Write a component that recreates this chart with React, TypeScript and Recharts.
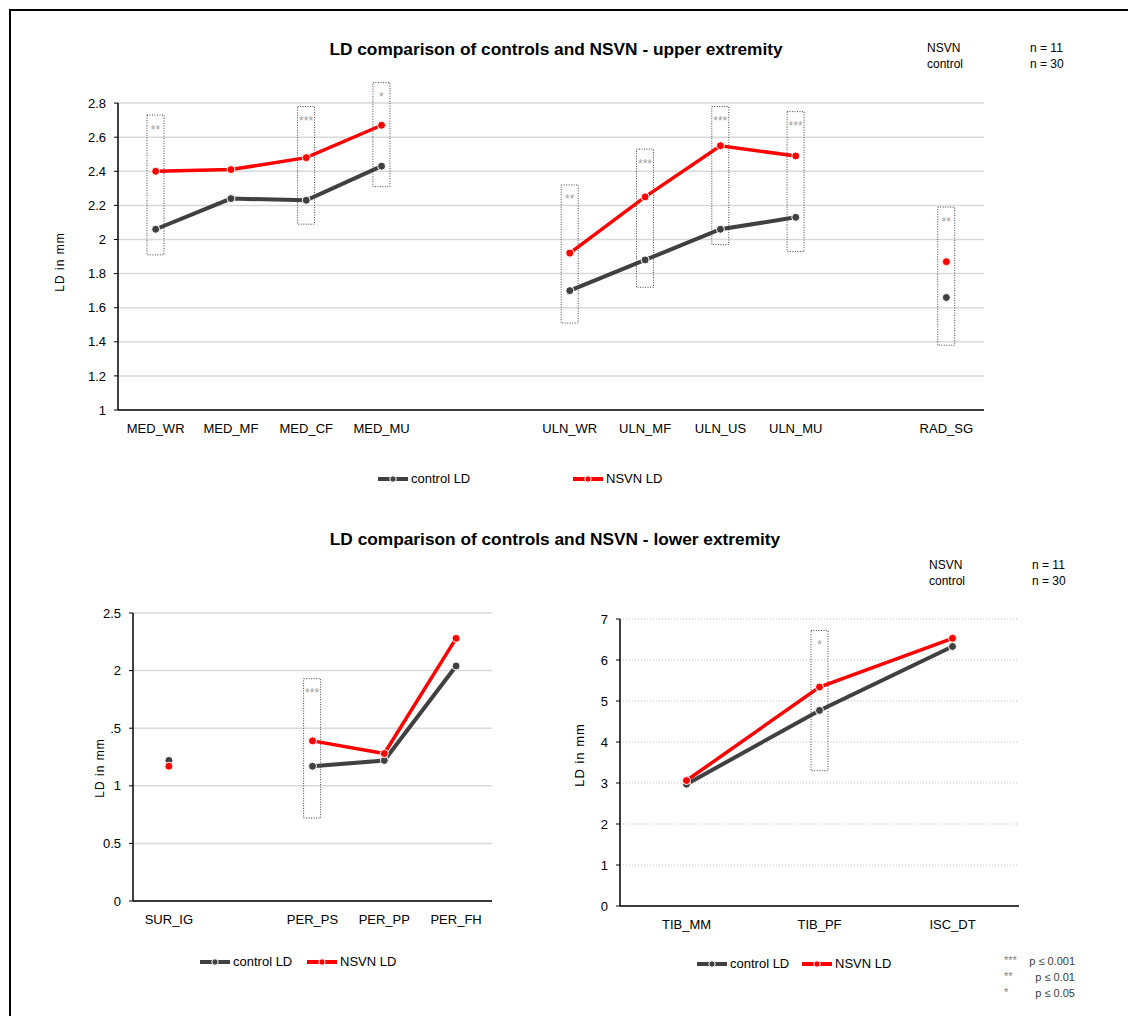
import React from "react";
import {
  ComposedChart, Line, Bar, XAxis, YAxis, CartesianGrid,
  ReferenceLine, LabelList,
} from "recharts";

const FONT = '"Liberation Sans", Arial, sans-serif';
const CONTROL = "#404040";
const NSVN = "#ff0000";
const GRID = "#d9d9d9";

// upper extremity
const upperNerves = ["MED_WR", "MED_MF", "MED_CF", "MED_MU", "ULN_WR", "ULN_MF", "ULN_US", "ULN_MU", "RAD_SG"];
const upperGroup = ["MED", "MED", "MED", "MED", "ULN", "ULN", "ULN", "ULN", "RAD"];
const upperSlot = [0.5, 1.5, 2.5, 3.5, 6, 7, 8, 9, 11];
const upperControl = [2.06, 2.24, 2.23, 2.43, 1.70, 1.88, 2.06, 2.13, 1.66];
const upperNsvn = [2.40, 2.41, 2.48, 2.67, 1.92, 2.25, 2.55, 2.49, 1.87];
const upperBoxLow = [1.91, null, 2.09, 2.31, 1.51, 1.72, 1.97, 1.93, 1.38];
const upperBoxHigh = [2.73, null, 2.78, 2.92, 2.32, 2.53, 2.78, 2.75, 2.19];
const upperSig = ["**", "", "***", "*", "**", "***", "***", "***", "**"];
const upperTicks = [1, 1.2, 1.4, 1.6, 1.8, 2, 2.2, 2.4, 2.6, 2.8];

// lower extremity, left
const leftNerves = ["SUR_IG", "", "PER_PS", "PER_PP", "PER_FH"];
const leftControl = [1.22, null, 1.17, 1.22, 2.04];
const leftNsvn = [1.17, null, 1.39, 1.28, 2.28];
const leftBoxLow = [null, null, 0.72, null, null];
const leftBoxHigh = [null, null, 1.93, null, null];
const leftSig = ["", "", "***", "", ""];
const leftTicks = [0, 0.5, 1, 1.5, 2, 2.5];
const leftTickLabels = ["0", "0.5", "1", ".5", "2", "2.5"];

// lower extremity, right
const rightNerves = ["TIB_MM", "TIB_PF", "ISC_DT"];
const rightControl = [2.97, 4.77, 6.33];
const rightNsvn = [3.06, 5.34, 6.53];
const rightBoxLow = [null, 3.30, null];
const rightBoxHigh = [null, 6.72, null];
const rightSig = ["", "*", ""];
const rightTicks = [0, 1, 2, 3, 4, 5, 6, 7];

const groups = ["MED", "ULN", "RAD"];

const upperData = upperNerves.map((name, i) => ({
  name,
  slot: upperSlot[i],
  [`c_${upperGroup[i]}`]: upperControl[i],
  [`n_${upperGroup[i]}`]: upperNsvn[i],
  box: upperBoxLow[i] != null ? [upperBoxLow[i], upperBoxHigh[i]] : null,
  sig: upperSig[i],
}));

const leftData = leftNerves.map((name, i) => ({
  name,
  control: leftControl[i],
  nsvn: leftNsvn[i],
  box: leftBoxLow[i] != null ? [leftBoxLow[i], leftBoxHigh[i]] : null,
  sig: leftSig[i],
}));

const rightData = rightNerves.map((name, i) => ({
  name,
  control: rightControl[i],
  nsvn: rightNsvn[i],
  box: rightBoxLow[i] != null ? [rightBoxLow[i], rightBoxHigh[i]] : null,
  sig: rightSig[i],
}));

const tick = { fontSize: 13, fill: "#000", fontFamily: FONT };
const dotStyle = (c: string) => ({ r: 4, fill: c, stroke: "#fff", strokeWidth: 1 });

function LegendKey({ color, label }: { color: string; label: string }) {
  return (
    <span style={{ display: "inline-flex", alignItems: "center" }}>
      <svg width={30} height={10} style={{ marginRight: 3 }}>
        <line x1={0} y1={5} x2={30} y2={5} stroke={color} strokeWidth={4} />
        <circle cx={15} cy={5} r={3.2} fill={color} stroke="#fff" strokeWidth={1} />
      </svg>
      <span>{label}</span>
    </span>
  );
}

function Abs({ x, y, children, style }: any) {
  return (
    <div style={{ position: "absolute", left: x, top: y, whiteSpace: "nowrap", ...style }}>
      {children}
    </div>
  );
}

function YLabel({ x, y, size }: { x: number; y: number; size: number }) {
  return (
    <div style={{
      position: "absolute", left: x - 50, top: y - 10, width: 100, height: 20,
      textAlign: "center", lineHeight: "20px", fontSize: size, letterSpacing: 1,
      transform: "rotate(-90deg)", whiteSpace: "nowrap",
    }}>
      LD in mm
    </div>
  );
}

function Counts({ x, y }: { x: number; y: number }) {
  return (
    <>
      <Abs x={x} y={y} style={{ fontSize: 12, lineHeight: "16px" }}>NSVN<br />control</Abs>
      <Abs x={x + 103} y={y} style={{ fontSize: 12, lineHeight: "16px" }}>n = 11<br />n = 30</Abs>
    </>
  );
}

const boxProps = {
  fill: "none",
  stroke: "#404040",
  strokeWidth: 1,
  strokeDasharray: "1 1.5",
  barSize: 17,
  isAnimationActive: false,
};

const sigLabel = { position: "insideTop" as const, offset: 10, fill: "#a0a0a0", fontSize: 12, fontFamily: FONT };

export default function App() {
  return (
    <div style={{ position: "absolute", left: 0, top: 0, width: 1128, height: 1016, fontFamily: FONT, background: "#fff", overflow: "hidden" }}>
      <div style={{ position: "absolute", left: 9, top: 9, width: 1200, height: 1100, borderTop: "2px solid #000", borderLeft: "2px solid #000" }} />

      {/* upper extremity */}
      <Abs x={0} y={39} style={{ width: 1112, textAlign: "center", fontWeight: "bold", fontSize: 17.3 }}>
        LD comparison of controls and NSVN - upper extremity
      </Abs>
      <Counts x={927} y={40} />
      <YLabel x={60} y={262} size={12} />
      <div style={{ position: "absolute", left: 0, top: 0 }}>
        <ComposedChart width={1128} height={500} data={upperData}
          margin={{ top: 69, right: 144, bottom: 60, left: 68 }}>
          <CartesianGrid vertical={false} stroke={GRID} strokeWidth={1.5} horizontalValues={upperTicks} />
          <XAxis dataKey="slot" type="number" domain={[0, 11.5]} ticks={upperSlot}
            tickFormatter={(v) => upperNerves[upperSlot.indexOf(v)] ?? ""}
            tick={tick} tickLine={false} axisLine={{ stroke: "#000", strokeWidth: 1.5 }}
            tickMargin={8} height={30} interval={0} />
          <YAxis type="number" domain={[1, 3]} ticks={upperTicks} width={50}
            tick={tick} tickSize={4} tickMargin={8} axisLine={false}
            tickLine={{ stroke: "#000" }} />
          <ReferenceLine segment={[{ x: 0, y: 1 }, { x: 0, y: 2.8 }]} stroke="#000" strokeWidth={1.5} />
          <Bar dataKey="box" {...boxProps}>
            <LabelList dataKey="sig" {...sigLabel} />
          </Bar>
          {groups.map((g) => (
            <Line key={`c${g}`} dataKey={`c_${g}`} stroke={CONTROL} strokeWidth={4}
              dot={dotStyle(CONTROL)} activeDot={false} isAnimationActive={false} />
          ))}
          {groups.map((g) => (
            <Line key={`n${g}`} dataKey={`n_${g}`} stroke={NSVN} strokeWidth={3.5}
              dot={dotStyle(NSVN)} activeDot={false} isAnimationActive={false} />
          ))}
        </ComposedChart>
      </div>
      <Abs x={378} y={470} style={{ fontSize: 13, lineHeight: "18px" }}><LegendKey color={CONTROL} label="control LD" /></Abs>
      <Abs x={573} y={470} style={{ fontSize: 13, lineHeight: "18px" }}><LegendKey color={NSVN} label="NSVN LD" /></Abs>

      {/* lower extremity */}
      <Abs x={0} y={529} style={{ width: 1110, textAlign: "center", fontWeight: "bold", fontSize: 17.3 }}>
        LD comparison of controls and NSVN - lower extremity
      </Abs>
      <Counts x={929} y={557} />

      <YLabel x={100} y={768} size={12} />
      <div style={{ position: "absolute", left: 0, top: 520 }}>
        <ComposedChart width={560} height={440} data={leftData}
          margin={{ top: 93, right: 68, bottom: 29, left: 83 }}>
          <CartesianGrid vertical={false} stroke={GRID} strokeWidth={1.5} />
          <XAxis dataKey="name" tick={tick} tickLine={false}
            axisLine={{ stroke: "#000", strokeWidth: 1.5 }} tickMargin={8} height={30} interval={0} />
          <YAxis type="number" domain={[0, 2.5]} ticks={leftTicks} width={50}
            tickFormatter={(v) => leftTickLabels[leftTicks.indexOf(v)] ?? String(v)}
            tick={tick} tickSize={4} tickMargin={8}
            axisLine={{ stroke: "#000", strokeWidth: 1.5 }} tickLine={{ stroke: "#000" }} />
          <Bar dataKey="box" {...boxProps}>
            <LabelList dataKey="sig" {...sigLabel} />
          </Bar>
          <Line dataKey="control" stroke={CONTROL} strokeWidth={4}
            dot={dotStyle(CONTROL)} activeDot={false} isAnimationActive={false} />
          <Line dataKey="nsvn" stroke={NSVN} strokeWidth={3.5}
            dot={dotStyle(NSVN)} activeDot={false} isAnimationActive={false} />
        </ComposedChart>
      </div>
      <Abs x={200} y={953} style={{ fontSize: 13, lineHeight: "18px" }}><LegendKey color={CONTROL} label="control LD" /></Abs>
      <Abs x={307} y={953} style={{ fontSize: 13, lineHeight: "18px" }}><LegendKey color={NSVN} label="NSVN LD" /></Abs>

      <YLabel x={580} y={755} size={13} />
      <div style={{ position: "absolute", left: 560, top: 520 }}>
        <ComposedChart width={568} height={440} data={rightData}
          margin={{ top: 99, right: 109, bottom: 24, left: 20 }}>
          <CartesianGrid vertical={false} stroke="#bfbfbf" strokeDasharray="1 2" />
          <XAxis dataKey="name" tick={tick} tickLine={false}
            axisLine={{ stroke: "#000", strokeWidth: 1.5 }} tickMargin={8} height={30} interval={0} />
          <YAxis type="number" domain={[0, 7]} ticks={rightTicks} width={40}
            tick={tick} tickSize={4} tickMargin={8}
            axisLine={{ stroke: "#000", strokeWidth: 1.5 }} tickLine={{ stroke: "#000" }} />
          <Bar dataKey="box" {...boxProps}>
            <LabelList dataKey="sig" {...sigLabel} />
          </Bar>
          <Line dataKey="control" stroke={CONTROL} strokeWidth={4}
            dot={dotStyle(CONTROL)} activeDot={false} isAnimationActive={false} />
          <Line dataKey="nsvn" stroke={NSVN} strokeWidth={3.5}
            dot={dotStyle(NSVN)} activeDot={false} isAnimationActive={false} />
        </ComposedChart>
      </div>
      <Abs x={697} y={955} style={{ fontSize: 13, lineHeight: "18px" }}><LegendKey color={CONTROL} label="control LD" /></Abs>
      <Abs x={802} y={955} style={{ fontSize: 13, lineHeight: "18px" }}><LegendKey color={NSVN} label="NSVN LD" /></Abs>

      {/* significance key */}
      {[["***", "p ≤ 0.001"], ["**", "p ≤ 0.01"], ["*", "p ≤ 0.05"]].map(([s, p], i) => (
        <React.Fragment key={s}>
          <Abs x={1004} y={952 + i * 16} style={{ fontSize: 11, lineHeight: "16px", color: "#808080" }}>{s}</Abs>
          <Abs x={1000} y={953 + i * 16} style={{ width: 75, textAlign: "right", fontSize: 11, lineHeight: "16px", color: "#404040" }}>{p}</Abs>
        </React.Fragment>
      ))}
    </div>
  );
}
